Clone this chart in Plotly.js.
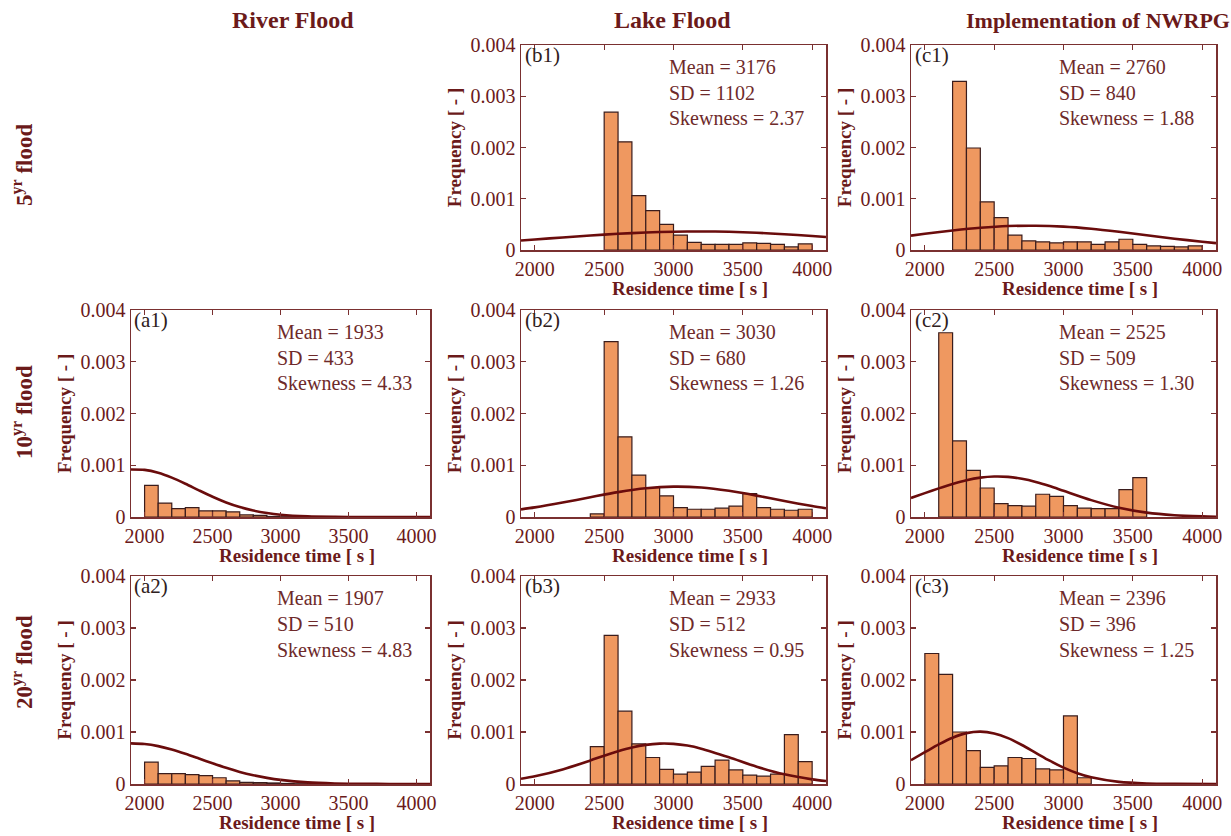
<!DOCTYPE html>
<html>
<head>
<meta charset="utf-8">
<script src="https://cdn.plot.ly/plotly-3.0.1.min.js"></script>
<style>html,body{margin:0;padding:0;background:#fff;}#chart{width:1231px;height:836px;}</style>
</head>
<body>
<div id="chart"></div>
<script>
// ---------- data ----------
const colTitles = ["River Flood", "Lake Flood", "Implementation of NWRPG"];
const rowTitles = ["5<sup>yr</sup> flood", "10<sup>yr</sup> flood", "20<sup>yr</sup> flood"];
const xAxisTitle = "Residence time [ s ]";
const yAxisTitle = "Frequency [ - ]";
const xTickVals = [2000, 2500, 3000, 3500, 4000];
const xTickText = ["2000", "2500", "3000", "3500", "4000"];
const yTickVals = [0, 0.001, 0.002, 0.003, 0.004];
const yTickText = ["0", "0.001", "0.002", "0.003", "0.004"];

// (b1) Lake flood, 5yr
const b1Bins = [2550,2650,2750,2850,2950,3050,3150,3250,3350,3450,3550,3650,3750,3850,3950];
const b1Freq = [0.00269,0.00211,0.00106,0.00077,0.00050,0.00029,0.00015,0.00011,0.00011,0.00011,0.00014,0.00013,0.00011,0.00006,0.00012];
const b1CurveX = [1900,2000,2200,2400,2600,2800,3000,3200,3400,3600,3800,4000,4100];
const b1CurveY = [0.000185,0.000205,0.000245,0.000283,0.000316,0.000342,0.000357,0.000362,0.000355,0.000336,0.000308,0.000274,0.000255];
const b1Stats = ["Mean = 3176", "SD = 1102", "Skewness = 2.37"];

// (c1) NWRPG, 5yr
const c1Bins = [2250,2350,2450,2550,2650,2750,2850,2950,3050,3150,3250,3350,3450,3550,3650,3750,3850,3950];
const c1Freq = [0.00329,0.00199,0.00094,0.00063,0.00029,0.00018,0.00016,0.00014,0.00016,0.00016,0.00011,0.00016,0.00021,0.00011,0.00008,0.00007,0.00006,0.00008];
const c1CurveX = [1900,2000,2200,2400,2600,2800,3000,3200,3400,3600,3800,4000,4100];
const c1CurveY = [0.000281,0.000316,0.000380,0.000433,0.000467,0.000474,0.000456,0.000414,0.000355,0.000288,0.000221,0.000160,0.000133];
const c1Stats = ["Mean = 2760", "SD = 840", "Skewness = 1.88"];

// (a1) River flood, 10yr
const a1Bins = [2050,2150,2250,2350,2450,2550,2650,2750,2850,2950,3050,3150,3250,3350,3450,3550,3650,3750,3850,3950];
const a1Freq = [0.00061,0.00027,0.00016,0.00018,0.00012,0.00012,0.00010,0.00004,0.00003,0.00001,0.000005,0.000003,0.000005,0.000003,0.000002,0.000006,0.000004,0.000005,0.000003,0.000006];
const a1CurveX = [1900,2000,2100,2200,2300,2400,2500,2600,2700,2800,2900,3000,3200,3400,3600,3800,4100];
const a1CurveY = [0.000918,0.000910,0.000855,0.000761,0.000643,0.000515,0.000391,0.000281,0.000192,0.000124,0.000076,0.000044,0.000013,0.000003,0.0000005,0,0];
const a1Stats = ["Mean = 1933", "SD = 433", "Skewness = 4.33"];

// (b2) Lake flood, 10yr
const b2Bins = [2450,2550,2650,2750,2850,2950,3050,3150,3250,3350,3450,3550,3650,3750,3850,3950];
const b2Freq = [0.00006,0.00339,0.00155,0.00081,0.00057,0.00041,0.00018,0.00015,0.00015,0.00017,0.00021,0.00045,0.00018,0.00015,0.00013,0.00015];
const b2CurveX = [1900,2000,2200,2400,2600,2800,3000,3200,3400,3600,3800,4000,4100];
const b2CurveY = [0.000148,0.000186,0.000279,0.000382,0.000481,0.000555,0.000586,0.000569,0.000506,0.000413,0.000309,0.000212,0.000170];
const b2Stats = ["Mean = 3030", "SD = 680", "Skewness = 1.26"];

// (c2) NWRPG, 10yr
const c2Bins = [2150,2250,2350,2450,2550,2650,2750,2850,2950,3050,3150,3250,3350,3450,3550];
const c2Freq = [0.00356,0.00147,0.00090,0.00056,0.00026,0.00022,0.00021,0.00044,0.00040,0.00022,0.00017,0.00016,0.00016,0.00053,0.00076];
const c2CurveX = [1900,2000,2100,2200,2300,2400,2500,2600,2700,2800,2900,3000,3200,3400,3600,3800,4000,4100];
const c2CurveY = [0.000369,0.000461,0.000553,0.000639,0.000711,0.000761,0.000783,0.000776,0.000739,0.000678,0.000598,0.000507,0.000326,0.000179,0.000084,0.000034,0.000012,0.000006];
const c2Stats = ["Mean = 2525", "SD = 509", "Skewness = 1.30"];

// (a2) River flood, 20yr
const a2Bins = [2050,2150,2250,2350,2450,2550,2650,2750,2850,2950,3050,3150,3250,3350,3450,3550,3650,3750,3850,3950];
const a2Freq = [0.00042,0.00020,0.00020,0.00018,0.00016,0.00012,0.00006,0.00003,0.000025,0.00002,0.00001,0.000005,0.000004,0.000003,0.000003,0.000003,0.000006,0.000003,0.000005,0.000006];
const a2CurveX = [1900,2000,2100,2200,2300,2400,2500,2600,2700,2800,2900,3000,3200,3400,3600,3800,4100];
const a2CurveY = [0.000782,0.000769,0.000728,0.000663,0.000581,0.000490,0.000398,0.000311,0.000233,0.000169,0.000118,0.000079,0.000031,0.000011,0.000003,0.000001,0];
const a2Stats = ["Mean = 1907", "SD = 510", "Skewness = 4.83"];

// (b3) Lake flood, 20yr
const b3Bins = [2450,2550,2650,2750,2850,2950,3050,3150,3250,3350,3450,3550,3650,3750,3850,3950];
const b3Freq = [0.00072,0.00286,0.00140,0.00077,0.00051,0.00028,0.00019,0.00023,0.00034,0.00046,0.00027,0.00017,0.00015,0.00019,0.00095,0.00043];
const b3CurveX = [1900,2000,2200,2400,2500,2600,2700,2800,2900,3000,3100,3200,3400,3600,3800,4000,4100];
const b3CurveY = [0.000102,0.000148,0.000280,0.000453,0.000545,0.000631,0.000703,0.000753,0.000777,0.000772,0.000739,0.000680,0.000514,0.000333,0.000186,0.000089,0.000058];
const b3Stats = ["Mean = 2933", "SD = 512", "Skewness = 0.95"];

// (c3) NWRPG, 20yr
const c3Bins = [2050,2150,2250,2350,2450,2550,2650,2750,2850,2950,3050,3150];
const c3Freq = [0.00251,0.00211,0.00100,0.00064,0.00032,0.00035,0.00051,0.00049,0.00029,0.00027,0.00131,0.00012];
const c3CurveX = [1900,2000,2100,2200,2300,2400,2500,2600,2700,2800,2900,3000,3100,3200,3400,3600,3800,4100];
const c3CurveY = [0.000459,0.000611,0.000762,0.000891,0.000978,0.001007,0.000973,0.000882,0.000750,0.000599,0.000448,0.000315,0.000207,0.000128,0.000041,0.000010,0.000002,0];
const c3Stats = ["Mean = 2396", "SD = 396", "Skewness = 1.25"];

// ---------- layout geometry ----------
const W = 1231, H = 836;
const colPx = [[131, 430], [521, 826], [911, 1216]];
const rowPx = [[45, 250], [310, 517], [576, 784]];
const FONT = "Liberation Serif, Times New Roman, serif";
const MAROON = '#6b1a1a';
const AXIS = '#7a3030';
const BAR = '#ef9860';
const BAREDGE = '#3a1c1c';
const CURVE = '#6a0c0c';

const panels = [
  {label: "(b1)", col: 1, row: 0, bins: b1Bins, freq: b1Freq, cx: b1CurveX, cy: b1CurveY, stats: b1Stats},
  {label: "(c1)", col: 2, row: 0, bins: c1Bins, freq: c1Freq, cx: c1CurveX, cy: c1CurveY, stats: c1Stats},
  {label: "(a1)", col: 0, row: 1, bins: a1Bins, freq: a1Freq, cx: a1CurveX, cy: a1CurveY, stats: a1Stats},
  {label: "(b2)", col: 1, row: 1, bins: b2Bins, freq: b2Freq, cx: b2CurveX, cy: b2CurveY, stats: b2Stats},
  {label: "(c2)", col: 2, row: 1, bins: c2Bins, freq: c2Freq, cx: c2CurveX, cy: c2CurveY, stats: c2Stats},
  {label: "(a2)", col: 0, row: 2, bins: a2Bins, freq: a2Freq, cx: a2CurveX, cy: a2CurveY, stats: a2Stats},
  {label: "(b3)", col: 1, row: 2, bins: b3Bins, freq: b3Freq, cx: b3CurveX, cy: b3CurveY, stats: b3Stats},
  {label: "(c3)", col: 2, row: 2, bins: c3Bins, freq: c3Freq, cx: c3CurveX, cy: c3CurveY, stats: c3Stats}
];

const traces = [];
const layout = {
  width: W, height: H,
  margin: {l: 0, r: 0, t: 0, b: 0},
  paper_bgcolor: '#ffffff',
  plot_bgcolor: '#ffffff',
  showlegend: false,
  bargap: 0,
  font: {family: FONT, color: MAROON},
  annotations: []
};

panels.forEach((p, i) => {
  const n = i + 1;
  const xa = n === 1 ? 'x' : 'x' + n;
  const ya = n === 1 ? 'y' : 'y' + n;
  const [x0, x1] = colPx[p.col];
  const [y0, y1] = rowPx[p.row];
  traces.push({
    type: 'bar', x: p.bins, y: p.freq, width: 100,
    xaxis: xa, yaxis: ya,
    marker: {color: BAR, line: {color: BAREDGE, width: 1.2}},
    hoverinfo: 'skip'
  });
  traces.push({
    type: 'scatter', mode: 'lines', x: p.cx, y: p.cy,
    xaxis: xa, yaxis: ya,
    line: {color: CURVE, width: 2.6, shape: 'spline', smoothing: 0.8},
    hoverinfo: 'skip', cliponaxis: true
  });
  const axCommon = {
    showline: true, mirror: 'ticks', linecolor: AXIS, linewidth: 1.5,
    ticks: 'inside', ticklen: 5, tickwidth: 1.2, tickcolor: AXIS,
    showgrid: false, zeroline: false, fixedrange: true,
    tickfont: {family: FONT, size: 20, color: MAROON}
  };
  layout['xaxis' + (n === 1 ? '' : n)] = Object.assign({}, axCommon, {
    domain: [x0 / W, x1 / W], anchor: ya, range: [1900, 4100],
    tickmode: 'array', tickvals: xTickVals, ticktext: xTickText
  });
  layout['yaxis' + (n === 1 ? '' : n)] = Object.assign({}, axCommon, {
    domain: [1 - y1 / H, 1 - y0 / H], anchor: xa, range: [0, 0.004],
    tickmode: 'array', tickvals: yTickVals, ticktext: yTickText,
    title: {text: '<b>' + yAxisTitle + '</b>', font: {family: FONT, size: 19, color: MAROON}, standoff: 4}
  });
  // x-axis title (MATLAB places it slightly right of centre)
  layout.annotations.push({
    xref: 'paper', yref: 'paper',
    x: ((x0 + x1) / 2 + 16) / W, y: 1 - (y1 + 38) / H,
    xanchor: 'center', yanchor: 'middle', showarrow: false,
    text: '<b>' + xAxisTitle + '</b>', font: {family: FONT, size: 19, color: MAROON}
  });
  layout.annotations.push({
    xref: xa + ' domain', yref: ya + ' domain', x: 0.005, y: 0.95,
    xanchor: 'left', yanchor: 'middle', showarrow: false,
    text: p.label, font: {family: FONT, size: 21, color: '#2e2020'}
  });
  const lineY = [0.894, 0.768, 0.645];
  p.stats.forEach((s, k) => {
    layout.annotations.push({
      xref: xa + ' domain', yref: ya + ' domain', x: 0.48, y: lineY[k],
      xanchor: 'left', yanchor: 'middle', showarrow: false,
      text: s, font: {family: FONT, size: 20, color: '#6e2a2a'}
    });
  });
});

// column titles
const colCenters = [293, 672, 1098];
const colSizes = [24, 24, 22];
colTitles.forEach((t, i) => {
  layout.annotations.push({
    xref: 'paper', yref: 'paper', x: colCenters[i] / W, y: 1 - 20 / H,
    xanchor: 'center', yanchor: 'middle', showarrow: false,
    text: '<b>' + t + '</b>', font: {family: FONT, size: colSizes[i], color: MAROON}
  });
});
// row titles
const rowCenters = [165, 412, 662];
rowTitles.forEach((t, i) => {
  layout.annotations.push({
    xref: 'paper', yref: 'paper', x: 22 / W, y: 1 - rowCenters[i] / H,
    xanchor: 'center', yanchor: 'middle', showarrow: false, textangle: -90,
    text: '<b>' + t + '</b>', font: {family: FONT, size: 23, color: MAROON}
  });
});

Plotly.newPlot('chart', traces, layout, {staticPlot: true, displayModeBar: false});
</script>
</body>
</html>
